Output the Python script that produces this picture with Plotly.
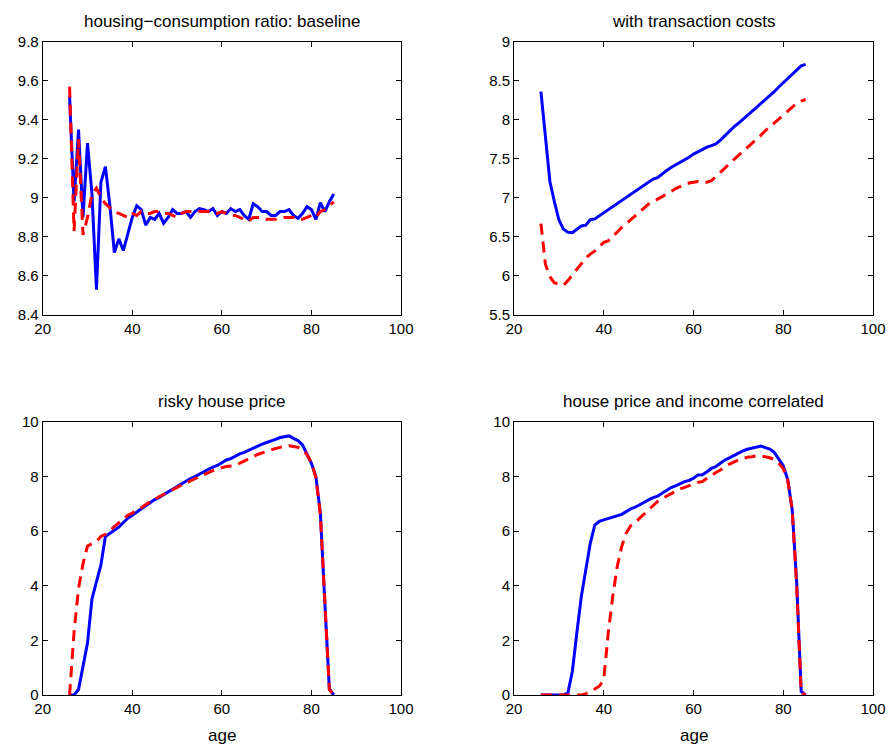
import plotly.graph_objects as go

ages = list(range(26, 86))

# Panel 1: housing-consumption ratio, baseline
p1_blue = [9.52, 8.98, 9.35, 8.90, 9.28, 9.02, 8.53, 9.08, 9.16, 8.96,
           8.72, 8.79, 8.73, 8.82, 8.90, 8.96, 8.94, 8.86, 8.90, 8.89,
           8.92, 8.87, 8.90, 8.94, 8.92, 8.92, 8.93, 8.90, 8.93, 8.945,
           8.94, 8.93, 8.945, 8.91, 8.93, 8.92, 8.945, 8.93, 8.94, 8.91,
           8.89, 8.97, 8.955, 8.93, 8.93, 8.91, 8.91, 8.93, 8.93, 8.94,
           8.91, 8.895, 8.92, 8.955, 8.94, 8.89, 8.975, 8.93, 8.98, 9.02]
p1_red = [9.57, 8.83, 9.30, 8.81, 8.90, 9.02, 9.05, 9.00, 8.97, 8.95,
          8.93, 8.92, 8.91, 8.90, 8.92, 8.91, 8.93, 8.92, 8.92, 8.93,
          8.93, 8.92, 8.92, 8.91, 8.90, 8.92, 8.93, 8.93, 8.93, 8.93,
          8.93, 8.93, 8.92, 8.92, 8.93, 8.92, 8.91, 8.91, 8.90, 8.89,
          8.88, 8.90, 8.90, 8.90, 8.89, 8.89, 8.89, 8.895, 8.90, 8.90,
          8.90, 8.89, 8.89, 8.90, 8.91, 8.90, 8.93, 8.94, 8.96, 8.98]

# Panel 2: with transaction costs
p2_blue = [8.36, 7.78, 7.21, 6.95, 6.72, 6.60, 6.56, 6.555, 6.60, 6.64,
           6.65, 6.72, 6.73, 6.77, 6.81, 6.85, 6.89, 6.93, 6.97, 7.01,
           7.04, 7.08, 7.13, 7.16, 7.21, 7.24, 7.26, 7.31, 7.35, 7.39,
           7.42, 7.46, 7.49, 7.52, 7.56, 7.59, 7.63, 7.65, 7.67, 7.69,
           7.74, 7.80, 7.86, 7.91, 7.955, 8.005, 8.05, 8.10, 8.15, 8.20,
           8.26, 8.31, 8.36, 8.42, 8.475, 8.53, 8.58, 8.64, 8.69, 8.71]
p2_red = [6.67, 6.15, 5.99, 5.91, 5.90, 5.88, 5.94, 6.01, 6.08, 6.16,
          6.23, 6.28, 6.32, 6.375, 6.43, 6.45, 6.51, 6.57, 6.62, 6.67,
          6.72, 6.77, 6.82, 6.88, 6.92, 6.95, 6.98, 7.02, 7.05, 7.08,
          7.12, 7.15, 7.17, 7.19, 7.20, 7.21, 7.20, 7.20, 7.22, 7.27,
          7.32, 7.38, 7.44, 7.49, 7.54, 7.59, 7.65, 7.70, 7.75, 7.80,
          7.86, 7.91, 7.96, 8.01, 8.065, 8.12, 8.17, 8.21, 8.24, 8.26]

# Panel 3: risky house price
p3_blue = [0.0, 0.0, 0.2, 1.05, 1.9, 3.52, 4.15, 4.76, 5.80, 5.92,
           6.02, 6.14, 6.31, 6.47, 6.58, 6.70, 6.82, 6.94, 7.05, 7.15,
           7.23, 7.33, 7.43, 7.54, 7.62, 7.72, 7.83, 7.92, 7.99, 8.09,
           8.17, 8.26, 8.34, 8.40, 8.50, 8.60, 8.65, 8.75, 8.82, 8.88,
           8.96, 9.04, 9.11, 9.18, 9.24, 9.29, 9.35, 9.42, 9.44, 9.48,
           9.39, 9.31, 9.15, 8.84, 8.48, 7.99, 6.65, 3.36, 0.22, 0.0]
p3_red = [0.0, 2.3, 3.9, 4.8, 5.45, 5.55, 5.62, 5.80, 5.88, 6.02,
          6.15, 6.28, 6.44, 6.58, 6.65, 6.74, 6.85, 6.97, 7.08, 7.17,
          7.26, 7.35, 7.43, 7.52, 7.60, 7.68, 7.76, 7.84, 7.92, 8.00,
          8.07, 8.14, 8.21, 8.27, 8.32, 8.36, 8.37, 8.40, 8.48, 8.56,
          8.66, 8.74, 8.80, 8.86, 8.92, 8.97, 9.02, 9.06, 9.10, 9.12,
          9.09, 9.06, 9.00, 8.80, 8.50, 7.95, 6.60, 3.30, 0.20, 0.0]

# Panel 4: house price and income correlated
p4_blue = [0.0, 0.0, 0.0, 0.0, 0.0, 0.01, 0.07, 0.86, 2.27, 3.60,
           4.58, 5.55, 6.22, 6.35, 6.41, 6.46, 6.50, 6.55, 6.61, 6.71,
           6.81, 6.87, 6.97, 7.06, 7.14, 7.22, 7.28, 7.38, 7.50, 7.59,
           7.65, 7.72, 7.81, 7.85, 7.93, 8.05, 8.06, 8.17, 8.29, 8.36,
           8.48, 8.60, 8.68, 8.77, 8.87, 8.93, 8.99, 9.03, 9.05, 9.11,
           9.05, 9.00, 8.88, 8.62, 8.39, 7.87, 6.77, 4.09, 0.13, 0.0]
p4_red = [0.0, 0.0, 0.0, 0.0, 0.0, 0.0, 0.0, 0.0, 0.0, 0.0,
          0.05, 0.12, 0.22, 0.32, 0.56, 2.27, 3.60, 4.70, 5.43, 5.92,
          6.19, 6.31, 6.47, 6.63, 6.77, 6.92, 7.08, 7.19, 7.28, 7.38,
          7.48, 7.54, 7.60, 7.65, 7.72, 7.78, 7.81, 7.93, 8.05, 8.14,
          8.23, 8.36, 8.45, 8.54, 8.60, 8.65, 8.70, 8.72, 8.75, 8.75,
          8.72, 8.68, 8.62, 8.48, 8.29, 7.87, 6.77, 3.97, 0.07, 0.0]

titles = ["housing−consumption ratio: baseline", "with transaction costs",
          "risky house price", "house price and income correlated"]
y_ranges = [[8.4, 9.8], [5.5, 9.0], [0, 10], [0, 10]]
y_dticks = [0.2, 0.5, 2, 2]
series = [(p1_blue, p1_red), (p2_blue, p2_red), (p3_blue, p3_red), (p4_blue, p4_red)]

W, H = 891, 748
x_doms = [[42.7 / W, 401 / W], [514 / W, 873 / W]]
y_doms = [[1 - 315 / H, 1 - 41.7 / H], [1 - 695 / H, 1 - 421.7 / H]]

font_family = "Liberation Sans, Arial, Helvetica, sans-serif"
fig = go.Figure()
layout = dict(
    width=W, height=H, margin=dict(l=0, r=0, t=0, b=0),
    paper_bgcolor="white", plot_bgcolor="white", showlegend=False,
    font=dict(family=font_family, size=15, color="black"),
)
annotations = []
for i in range(4):
    row, col = divmod(i, 2)
    n = i + 1
    xa = "x" if n == 1 else f"x{n}"
    ya = "y" if n == 1 else f"y{n}"
    blue, red = series[i]
    fig.add_trace(go.Scatter(x=ages, y=blue, mode="lines", xaxis=xa, yaxis=ya,
                             line=dict(color="#0000FF", width=3)))
    fig.add_trace(go.Scatter(x=ages, y=red, mode="lines", xaxis=xa, yaxis=ya,
                             line=dict(color="#FF0000", width=3, dash="11px,7px")))
    common = dict(showline=True, linecolor="black", linewidth=1, mirror="ticks",
                  ticks="inside", ticklen=5, tickcolor="black", tickwidth=1,
                  showgrid=False, zeroline=False, automargin=False,
                  tickfont=dict(size=15, family=font_family, color="black"))
    layout["xaxis" if n == 1 else f"xaxis{n}"] = dict(
        domain=x_doms[col], anchor=ya, range=[20, 100], dtick=20, tick0=20, **common)
    layout["yaxis" if n == 1 else f"yaxis{n}"] = dict(
        domain=y_doms[row], anchor=xa, range=y_ranges[i], dtick=y_dticks[i],
        tick0=y_ranges[i][0], **common)
    xc = (x_doms[col][0] + x_doms[col][1]) / 2
    annotations.append(dict(text=titles[i], x=xc, y=y_doms[row][1], xref="paper", yref="paper",
                            xanchor="center", yanchor="bottom", yshift=9, showarrow=False,
                            font=dict(size=17, family=font_family, color="black")))
    if row == 1:
        annotations.append(dict(text="age", x=xc, y=y_doms[row][0], xref="paper", yref="paper",
                                xanchor="center", yanchor="top", yshift=-29, showarrow=False,
                                font=dict(size=17, family=font_family, color="black")))
layout["annotations"] = annotations
fig.update_layout(**layout)
fig.write_html("out.html")
